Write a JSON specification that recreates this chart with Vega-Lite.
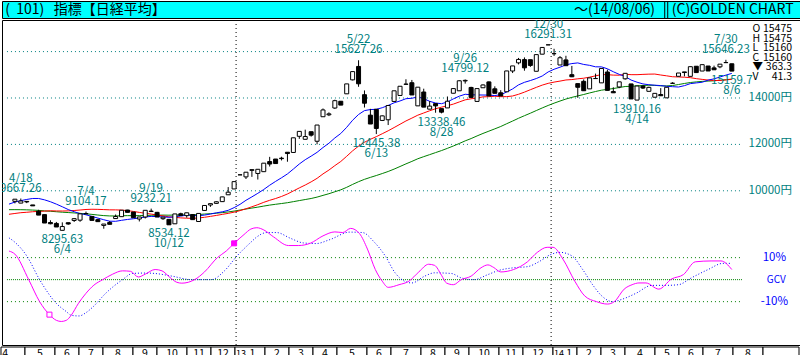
{
"$schema": "https://vega.github.io/schema/vega-lite/v6.json",
"padding": 0,
"background": "white",
"spacing": 0,
"config": {"view": {"stroke": null}, "concat": {"spacing": 0}, "font": "Noto Sans CJK JP"},
"datasets": {
"hdr": [{"w":0.2,"t":"(\u00a0\u00a0101)\u00a0\u00a0\u00a0指標【日経平均】","a":"l"},{"w":108.5,"t":"～(14/08/06)","a":"r"},{"w":131.6,"t":"(C)GOLDEN CHART","a":"r"}],
"hbar": [{"w":110.12},{"w":110.62}],
"grid": [{"p":10000,"lab":"10000円"},{"p":12000,"lab":"12000円"},{"p":14000,"lab":"14000円"},{"p":16000,"lab":""}],
"yr": [{"w":38.33},{"w":91.5}],
"og1": [{"v":10,"lab":"10%"},{"v":-10,"lab":"-10%"}],
"og0": [{"v":0,"lab":"GCV"}],
"k": [
{"w":1,"o":9546,"h":9638,"l":9458,"c":9638},
{"w":2,"o":9470,"h":9667,"l":9464,"c":9561},
{"w":3,"o":9542,"h":9561,"l":9468,"c":9521},
{"w":4,"o":9390,"h":9390,"l":9351,"c":9351},
{"w":5,"o":9119,"h":9181,"l":8953,"c":8953},
{"w":6,"o":8973,"h":8973,"l":8611,"c":8611},
{"w":7,"o":8633,"h":8729,"l":8556,"c":8580},
{"w":8,"o":8593,"h":8657,"l":8440,"c":8440},
{"w":9,"o":8296,"h":8639,"l":8296,"c":8459},
{"w":10,"o":8624,"h":8624,"l":8536,"c":8569},
{"w":11,"o":8721,"h":8824,"l":8655,"c":8798},
{"w":12,"o":8734,"h":9007,"l":8663,"c":9007},
{"w":13,"o":9003,"h":9104,"l":9003,"c":9021},
{"w":14,"o":8896,"h":8896,"l":8720,"c":8724},
{"w":15,"o":8755,"h":8795,"l":8670,"c":8670},
{"w":16,"o":8508,"h":8566,"l":8365,"c":8566},
{"w":17,"o":8636,"h":8695,"l":8555,"c":8555},
{"w":18,"o":8803,"h":8978,"l":8803,"c":8891},
{"w":19,"o":8885,"h":9162,"l":8885,"c":9162},
{"w":20,"o":9171,"h":9178,"l":9071,"c":9071},
{"w":21,"o":9085,"h":9085,"l":8840,"c":8840},
{"w":22,"o":8783,"h":8872,"l":8679,"c":8872},
{"w":23,"o":8870,"h":9159,"l":8807,"c":9159},
{"w":24,"o":9123,"h":9232,"l":9086,"c":9110},
{"w":25,"o":9070,"h":9091,"l":8870,"c":8870},
{"w":26,"o":8797,"h":8863,"l":8746,"c":8863},
{"w":27,"o":8769,"h":8769,"l":8534,"c":8534},
{"w":28,"o":8577,"h":9003,"l":8577,"c":9003},
{"w":29,"o":9010,"h":9055,"l":8932,"c":8933},
{"w":30,"o":8929,"h":9051,"l":8841,"c":9051},
{"w":31,"o":8975,"h":8996,"l":8757,"c":8757},
{"w":32,"o":8676,"h":9024,"l":8661,"c":9024},
{"w":33,"o":9153,"h":9367,"l":9142,"c":9367},
{"w":34,"o":9388,"h":9446,"l":9308,"c":9446},
{"w":35,"o":9458,"h":9545,"l":9432,"c":9527},
{"w":36,"o":9533,"h":9742,"l":9525,"c":9737},
{"w":37,"o":9828,"h":10160,"l":9828,"c":9940},
{"w":38,"o":10080,"h":10395,"l":10080,"c":10395},
{"w":39,"o":10688,"h":10688,"l":10688,"c":10688},
{"w":40,"o":10599,"h":10801,"l":10508,"c":10801},
{"w":41,"o":10879,"h":10913,"l":10600,"c":10913},
{"w":42,"o":10747,"h":10927,"l":10486,"c":10927},
{"w":43,"o":10824,"h":11191,"l":10824,"c":11191},
{"w":44,"o":11260,"h":11463,"l":11046,"c":11153},
{"w":45,"o":11369,"h":11369,"l":11173,"c":11174},
{"w":46,"o":11407,"h":11468,"l":11309,"c":11386},
{"w":47,"o":11662,"h":11662,"l":11253,"c":11606},
{"w":48,"o":11652,"h":12284,"l":11652,"c":12284},
{"w":49,"o":12349,"h":12561,"l":12239,"c":12561},
{"w":50,"o":12220,"h":12635,"l":12220,"c":12339},
{"w":51,"o":12546,"h":12546,"l":12335,"c":12398},
{"w":52,"o":12135,"h":12834,"l":12003,"c":12834},
{"w":53,"o":13192,"h":13549,"l":13192,"c":13485},
{"w":54,"o":13275,"h":13382,"l":13220,"c":13316},
{"w":55,"o":13568,"h":13926,"l":13529,"c":13884},
{"w":56,"o":13860,"h":13860,"l":13694,"c":13694},
{"w":57,"o":14180,"h":14608,"l":14180,"c":14608},
{"w":58,"o":14782,"h":15138,"l":14758,"c":15138},
{"w":59,"o":15360,"h":15627,"l":14483,"c":14612},
{"w":60,"o":14142,"h":14326,"l":13589,"c":13775},
{"w":61,"o":13261,"h":13533,"l":12878,"c":12878},
{"w":62,"o":13514,"h":13514,"l":12445,"c":12687},
{"w":63,"o":13033,"h":13245,"l":13007,"c":13230},
{"w":64,"o":13062,"h":13677,"l":12834,"c":13677},
{"w":65,"o":13852,"h":14310,"l":13852,"c":14310},
{"w":66,"o":14109,"h":14506,"l":14109,"c":14506},
{"w":67,"o":14599,"h":14808,"l":14589,"c":14590},
{"w":68,"o":14658,"h":14778,"l":14130,"c":14130},
{"w":69,"o":13661,"h":14466,"l":13661,"c":14466},
{"w":70,"o":14258,"h":14401,"l":13606,"c":13606},
{"w":71,"o":13519,"h":13867,"l":13519,"c":13650},
{"w":72,"o":13758,"h":13758,"l":13365,"c":13661},
{"w":73,"o":13542,"h":13542,"l":13338,"c":13389},
{"w":74,"o":13572,"h":14065,"l":13572,"c":13861},
{"w":75,"o":14205,"h":14425,"l":14205,"c":14405},
{"w":76,"o":14311,"h":14766,"l":14311,"c":14742},
{"w":77,"o":14734,"h":14799,"l":14620,"c":14760},
{"w":78,"o":14455,"h":14484,"l":14024,"c":14024},
{"w":79,"o":13853,"h":14405,"l":13853,"c":14405},
{"w":80,"o":14441,"h":14586,"l":14441,"c":14562},
{"w":81,"o":14693,"h":14713,"l":14088,"c":14088},
{"w":82,"o":14396,"h":14502,"l":14202,"c":14202},
{"w":83,"o":14225,"h":14337,"l":14087,"c":14087},
{"w":84,"o":14269,"h":15166,"l":14269,"c":15166},
{"w":85,"o":15164,"h":15382,"l":15076,"c":15382},
{"w":86,"o":15515,"h":15727,"l":15449,"c":15662},
{"w":87,"o":15655,"h":15749,"l":15177,"c":15300},
{"w":88,"o":15650,"h":15650,"l":15341,"c":15403},
{"w":89,"o":15152,"h":15870,"l":15152,"c":15870},
{"w":90,"o":15889,"h":16179,"l":15889,"c":16179},
{"w":91,"o":16291,"h":16291,"l":16291,"c":16291},
{"w":92,"o":15908,"h":16121,"l":15814,"c":15912},
{"w":93,"o":15422,"h":15808,"l":15422,"c":15734},
{"w":94,"o":15641,"h":15820,"l":15392,"c":15392},
{"w":95,"o":15005,"h":15383,"l":14900,"c":14915},
{"w":96,"o":14619,"h":14619,"l":14008,"c":14462},
{"w":97,"o":14718,"h":14800,"l":14313,"c":14313},
{"w":98,"o":14393,"h":14866,"l":14393,"c":14866},
{"w":99,"o":14837,"h":15051,"l":14837,"c":14841},
{"w":100,"o":14652,"h":15274,"l":14652,"c":15274},
{"w":101,"o":15120,"h":15224,"l":14328,"c":14328},
{"w":102,"o":14277,"h":14462,"l":14224,"c":14224},
{"w":103,"o":14475,"h":14696,"l":14423,"c":14696},
{"w":104,"o":14827,"h":15071,"l":14791,"c":15064},
{"w":105,"o":14606,"h":14606,"l":13960,"c":13960},
{"w":106,"o":13910,"h":14516,"l":13910,"c":14516},
{"w":107,"o":14512,"h":14546,"l":14388,"c":14429},
{"w":108,"o":14288,"h":14485,"l":14288,"c":14458},
{"w":109,"o":14033,"h":14200,"l":14033,"c":14200},
{"w":110,"o":14149,"h":14425,"l":14097,"c":14097},
{"w":111,"o":14006,"h":14462,"l":14006,"c":14462},
{"w":112,"o":14636,"h":14681,"l":14603,"c":14632},
{"w":113,"o":14935,"h":15077,"l":14935,"c":15077},
{"w":114,"o":15124,"h":15124,"l":14933,"c":15098},
{"w":115,"o":14933,"h":15361,"l":14933,"c":15349},
{"w":116,"o":15369,"h":15376,"l":15095,"c":15095},
{"w":117,"o":15162,"h":15437,"l":15162,"c":15437},
{"w":118,"o":15379,"h":15379,"l":15164,"c":15164},
{"w":119,"o":15297,"h":15395,"l":15216,"c":15216},
{"w":120,"o":15343,"h":15458,"l":15284,"c":15458},
{"w":121,"o":15529,"h":15646,"l":15523,"c":15523},
{"w":122,"o":15475,"h":15475,"l":15160,"c":15160}
],
"m": [
{"w":0,"a":9426,"b":8988,"g":9186},{"w":1,"a":9514,"b":9022,"g":9187},{"w":2,"a":9575,"b":9056,"g":9185},{"w":3,"a":9627,"b":9074,"g":9179},{"w":4,"a":9669,"b":9097,"g":9169},{"w":5,"a":9669,"b":9113,"g":9155},{"w":6,"a":9610,"b":9123,"g":9135},{"w":7,"a":9528,"b":9139,"g":9117},{"w":8,"a":9425,"b":9131,"g":9097},{"w":9,"a":9312,"b":9128,"g":9077},
{"w":10,"a":9192,"b":9135,"g":9062},{"w":11,"a":9098,"b":9150,"g":9045},{"w":12,"a":9016,"b":9171,"g":9028},{"w":13,"a":8965,"b":9195,"g":9007},{"w":14,"a":8894,"b":9204,"g":8983},{"w":15,"a":8825,"b":9200,"g":8955},{"w":16,"a":8752,"b":9190,"g":8931},{"w":17,"a":8689,"b":9179,"g":8916},{"w":18,"a":8685,"b":9177,"g":8915},{"w":19,"a":8727,"b":9168,"g":8923},
{"w":20,"a":8765,"b":9146,"g":8929},{"w":21,"a":8795,"b":9110,"g":8927},{"w":22,"a":8827,"b":9069,"g":8929},{"w":23,"a":8872,"b":9032,"g":8935},{"w":24,"a":8896,"b":8997,"g":8945},{"w":25,"a":8885,"b":8951,"g":8949},{"w":26,"a":8873,"b":8919,"g":8953},{"w":27,"a":8858,"b":8876,"g":8949},{"w":28,"a":8884,"b":8855,"g":8955},{"w":29,"a":8912,"b":8832,"g":8953},
{"w":30,"a":8949,"b":8819,"g":8958},{"w":31,"a":8939,"b":8812,"g":8963},{"w":32,"a":8928,"b":8828,"g":8975},{"w":33,"a":8952,"b":8858,"g":8998},{"w":34,"a":8998,"b":8897,"g":9014},{"w":35,"a":9049,"b":8938,"g":9033},{"w":36,"a":9094,"b":8983,"g":9059},{"w":37,"a":9158,"b":9027,"g":9088},{"w":38,"a":9275,"b":9080,"g":9126},{"w":39,"a":9416,"b":9145,"g":9170},
{"w":40,"a":9591,"b":9225,"g":9214},{"w":41,"a":9738,"b":9311,"g":9255},{"w":42,"a":9892,"b":9402,"g":9296},{"w":43,"a":10056,"b":9503,"g":9341},{"w":44,"a":10240,"b":9590,"g":9383},{"w":45,"a":10405,"b":9667,"g":9418},{"w":46,"a":10561,"b":9756,"g":9451},{"w":47,"a":10727,"b":9863,"g":9486},{"w":48,"a":10938,"b":9994,"g":9532},{"w":49,"a":11155,"b":10125,"g":9578},
{"w":50,"a":11340,"b":10249,"g":9623},{"w":51,"a":11494,"b":10385,"g":9668},{"w":52,"a":11658,"b":10537,"g":9728},{"w":53,"a":11865,"b":10728,"g":9802},{"w":54,"a":12051,"b":10894,"g":9874},{"w":55,"a":12278,"b":11085,"g":9958},{"w":56,"a":12470,"b":11263,"g":10041},{"w":57,"a":12736,"b":11488,"g":10150},{"w":58,"a":13042,"b":11723,"g":10276},{"w":59,"a":13289,"b":11925,"g":10392},
{"w":60,"a":13456,"b":12092,"g":10494},{"w":61,"a":13502,"b":12220,"g":10579},{"w":62,"a":13512,"b":12334,"g":10658},{"w":63,"a":13581,"b":12460,"g":10744},{"w":64,"a":13679,"b":12587,"g":10833},{"w":65,"a":13793,"b":12726,"g":10935},{"w":66,"a":13872,"b":12868,"g":11047},{"w":67,"a":13969,"b":13010,"g":11160},{"w":68,"a":13988,"b":13133,"g":11267},{"w":69,"a":14048,"b":13259,"g":11381},
{"w":70,"a":13972,"b":13354,"g":11472},{"w":71,"a":13857,"b":13449,"g":11558},{"w":72,"a":13784,"b":13537,"g":11646},{"w":73,"a":13754,"b":13605,"g":11734},{"w":74,"a":13829,"b":13666,"g":11830},{"w":75,"a":13962,"b":13737,"g":11931},{"w":76,"a":14078,"b":13829,"g":12039},{"w":77,"a":14161,"b":13920,"g":12152},{"w":78,"a":14138,"b":13966,"g":12252},{"w":79,"a":14131,"b":14001,"g":12365},
{"w":80,"a":14128,"b":14049,"g":12472},{"w":81,"a":14125,"b":14057,"g":12571},{"w":82,"a":14105,"b":14077,"g":12670},{"w":83,"a":14142,"b":14057,"g":12772},{"w":84,"a":14258,"b":14058,"g":12891},{"w":85,"a":14391,"b":14087,"g":13006},{"w":86,"a":14565,"b":14160,"g":13126},{"w":87,"a":14676,"b":14253,"g":13237},{"w":88,"a":14752,"b":14357,"g":13345},{"w":89,"a":14839,"b":14458,"g":13459},
{"w":90,"a":14948,"b":14555,"g":13571},{"w":91,"a":15123,"b":14631,"g":13678},{"w":92,"a":15238,"b":14685,"g":13777},{"w":93,"a":15328,"b":14728,"g":13869},{"w":94,"a":15428,"b":14777,"g":13955},{"w":95,"a":15484,"b":14794,"g":14027},{"w":96,"a":15512,"b":14827,"g":14090},{"w":97,"a":15446,"b":14852,"g":14151},{"w":98,"a":15407,"b":14899,"g":14218},{"w":99,"a":15344,"b":14955,"g":14280},
{"w":100,"a":15342,"b":15009,"g":14337},{"w":101,"a":15259,"b":15006,"g":14371},{"w":102,"a":15132,"b":14986,"g":14408},{"w":103,"a":15018,"b":14983,"g":14452},{"w":104,"a":14924,"b":15023,"g":14495},{"w":105,"a":14774,"b":15006,"g":14504},{"w":106,"a":14681,"b":15005,"g":14527},{"w":107,"a":14607,"b":15018,"g":14537},{"w":108,"a":14572,"b":15028,"g":14552},{"w":109,"a":14552,"b":15032,"g":14544},
{"w":110,"a":14535,"b":14991,"g":14524},{"w":111,"a":14504,"b":14955,"g":14521},{"w":112,"a":14488,"b":14916,"g":14538},{"w":113,"a":14473,"b":14907,"g":14580},{"w":114,"a":14532,"b":14896,"g":14626},{"w":115,"a":14619,"b":14876,"g":14667},{"w":116,"a":14650,"b":14834,"g":14694},{"w":117,"a":14679,"b":14802,"g":14716},{"w":118,"a":14772,"b":14773,"g":14729},{"w":119,"a":14825,"b":14753,"g":14741},
{"w":120,"a":14905,"b":14756,"g":14766},{"w":121,"a":14986,"b":14779,"g":14787},{"w":122,"a":15060,"b":14806,"g":14816}
],
"os": [
{"w":0,"v":13},{"w":1,"v":11.6},{"w":3.33,"v":0},{"w":5.17,"v":-10},{"w":6.83,"v":-15.9},{"w":8,"v":-18.5},{"w":8.83,"v":-19},{"w":9.67,"v":-18.5},{"w":10.5,"v":-16.2},{"w":11.67,"v":-11},
{"w":13,"v":-6.2},{"w":14.33,"v":-2.5},{"w":15.83,"v":0},{"w":17.5,"v":2.5},{"w":19.17,"v":4},{"w":20.5,"v":3.8},{"w":21.83,"v":1.2},{"w":23,"v":2.5},{"w":24.67,"v":4.6},{"w":25.83,"v":4},
{"w":27.17,"v":1},{"w":28.33,"v":-1.2},{"w":29.17,"v":-1.6},{"w":31.33,"v":0},{"w":33,"v":3.5},{"w":35.17,"v":10},{"w":36.67,"v":13},{"w":38,"v":16.5},{"w":39.67,"v":20.5},{"w":40.83,"v":23},
{"w":41.83,"v":23.6},{"w":43,"v":22.6},{"w":44.67,"v":19.4},{"w":47.17,"v":15.5},{"w":48.83,"v":15.5},{"w":50.83,"v":16.5},{"w":53,"v":19.9},{"w":55,"v":21.7},{"w":56.33,"v":21.4},{"w":57.67,"v":23.3},
{"w":59.17,"v":20.9},{"w":60.5,"v":13.9},{"w":61.83,"v":4.6},{"w":63,"v":-0.7},{"w":64,"v":-3.5},{"w":65.83,"v":-2.3},{"w":67.5,"v":-0.7},{"w":69.17,"v":3.5},{"w":70.83,"v":7},{"w":71.83,"v":6.5},
{"w":73,"v":2},{"w":73.83,"v":-1.5},{"w":75,"v":-2.3},{"w":76.33,"v":0},{"w":78,"v":1.6},{"w":79.67,"v":5.4},{"w":80.83,"v":6.7},{"w":81.83,"v":5.5},{"w":83,"v":3.5},{"w":85.17,"v":4.6},
{"w":87.5,"v":8.1},{"w":89.17,"v":12.4},{"w":90.83,"v":14.7},{"w":91.83,"v":14.7},{"w":93.5,"v":9.3},{"w":95.5,"v":-0.7},{"w":97.17,"v":-7.4},{"w":99.17,"v":-10},{"w":101,"v":-11.1},{"w":102.17,"v":-10},
{"w":103.83,"v":-4.3},{"w":105.17,"v":-2.3},{"w":106.33,"v":-1.5},{"w":107.5,"v":-1.5},{"w":109.67,"v":-4.3},{"w":111.83,"v":0.3},{"w":113.83,"v":2.3},{"w":115.83,"v":8.1},{"w":118.5,"v":8.5},{"w":120.17,"v":8.5},
{"w":122,"v":4.6}
],
"sg": [
{"w":0,"v":19},{"w":1,"v":17},{"w":3,"v":10.8},{"w":5.17,"v":0},{"w":8,"v":-10.8},{"w":9.67,"v":-14.5},{"w":10.5,"v":-16.2},{"w":11.83,"v":-16.5},{"w":13,"v":-15},{"w":14.17,"v":-12.4},
{"w":16.33,"v":-6.2},{"w":17.67,"v":-3},{"w":19.17,"v":0},{"w":20.83,"v":2.8},{"w":23,"v":3},{"w":24.67,"v":2.8},{"w":27.5,"v":1.6},{"w":30.83,"v":0},{"w":34.17,"v":0},{"w":36.33,"v":3.9},
{"w":38.5,"v":10.8},{"w":40.83,"v":17},{"w":41.83,"v":19.4},{"w":43.5,"v":21.4},{"w":45.17,"v":21.4},{"w":47.5,"v":18.8},{"w":49.67,"v":16.7},{"w":51.83,"v":16.4},{"w":54.17,"v":18.2},{"w":57.5,"v":21.6},
{"w":59.67,"v":21.4},{"w":61.67,"v":17},{"w":63.5,"v":10.8},{"w":65.17,"v":3.1},{"w":66.83,"v":-0.8},{"w":68,"v":-1.5},{"w":70.17,"v":1.6},{"w":71.83,"v":3.1},{"w":74.67,"v":2.8},{"w":76.33,"v":0.8},
{"w":78.5,"v":0},{"w":80.83,"v":2.3},{"w":82.67,"v":4.2},{"w":85.17,"v":5.4},{"w":87.5,"v":5.9},{"w":89.67,"v":8.5},{"w":91.33,"v":11.3},{"w":93,"v":12.4},{"w":95,"v":10.8},{"w":96.83,"v":4.6},
{"w":98.5,"v":-2.3},{"w":100.17,"v":-7.7},{"w":101.83,"v":-10},{"w":103.5,"v":-8.9},{"w":105.83,"v":-6.2},{"w":108.5,"v":-2.6},{"w":110.83,"v":-2.6},{"w":113,"v":-2.3},{"w":115.17,"v":0.8},{"w":118,"v":4.6},
{"w":120.5,"v":7.4},{"w":121.83,"v":7.4}
],
"mk": [{"w":6.83,"v":-15.9,"f":0},{"w":38,"v":16.5,"f":1}],
"hi": [
{"w":2,"p":9667.26,"d":"4/18","t":"9667.26"},
{"w":13,"p":9104.17,"d":"7/4","t":"9104.17"},
{"w":24,"p":9232.21,"d":"9/19","t":"9232.21"},
{"w":59,"p":15627.26,"d":"5/22","t":"15627.26"},
{"w":77,"p":14799.12,"d":"9/26","t":"14799.12"},
{"w":91,"p":16291.31,"d":"12/30","t":"16291.31"},
{"w":121,"p":15646.23,"d":"7/30","t":"15646.23"}
],
"lo": [
{"w":9,"p":8295.63,"d":"6/4","t":"8295.63"},
{"w":27,"p":8534.12,"d":"10/12","t":"8534.12"},
{"w":62,"p":12445.38,"d":"6/13","t":"12445.38"},
{"w":73,"p":13338.46,"d":"8/28","t":"13338.46"},
{"w":106,"p":13910.16,"d":"4/14","t":"13910.16"},
{"w":122,"p":15159.79,"d":"8/6","t":"15159.7"}
],
"info": [
{"k":"O","v":"15475","p":16974},
{"k":"H","v":"15475","p":16556},
{"k":"L","v":"15160","p":16155},
{"k":"C","v":"15160","p":15724},
{"k":"▼","v":"363.3","p":15323},
{"k":"V","v":"41.3","p":14905}
],
"mon": [
{"m":"4","s":-0.5,"e":3.5,"c":0.2},
{"m":"5","s":3.5,"e":8.5,"c":6},
{"m":"6","s":8.5,"e":12.5,"c":10.5},
{"m":"7","s":12.5,"e":16.5,"c":14.5},
{"m":"8","s":16.5,"e":21.5,"c":19},
{"m":"9","s":21.5,"e":25.5,"c":23.5},
{"m":"10","s":25.5,"e":30.5,"c":28},
{"m":"11","s":30.5,"e":34.5,"c":32.5},
{"m":"12","s":34.5,"e":38.5,"c":36.5},
{"m":"1","s":38.5,"e":43.5,"c":41.4,"yr":"13"},
{"m":"2","s":43.5,"e":47.5,"c":45.5},
{"m":"3","s":47.5,"e":51.5,"c":49.5},
{"m":"4","s":51.5,"e":55.5,"c":53.5},
{"m":"5","s":55.5,"e":60.5,"c":58},
{"m":"6","s":60.5,"e":64.5,"c":62.5},
{"m":"7","s":64.5,"e":69.5,"c":67},
{"m":"8","s":69.5,"e":73.5,"c":71.5},
{"m":"9","s":73.5,"e":77.5,"c":75.5},
{"m":"10","s":77.5,"e":82.5,"c":80},
{"m":"11","s":82.5,"e":86.5,"c":84.5},
{"m":"12","s":86.5,"e":91.5,"c":89},
{"m":"1","s":91.5,"e":95.5,"c":94.2,"yr":"14"},
{"m":"2","s":95.5,"e":99.5,"c":97.5},
{"m":"3","s":99.5,"e":103.5,"c":101.5},
{"m":"4","s":103.5,"e":108.5,"c":106},
{"m":"5","s":108.5,"e":112.5,"c":110.5},
{"m":"6","s":112.5,"e":116.5,"c":114.5},
{"m":"7","s":116.5,"e":121.5,"c":119},
{"m":"8","s":121.5,"e":126.5,"c":124},
{"m":"","s":126.5,"e":132.5,"c":129.5}
]
},
"vconcat": [
{
"width": 800, "height": 17,
"view": {"fill": "#00ffff", "stroke": "#000000", "strokeWidth": 1},
"layer": [
{"data": {"name": "hdr"}, "transform": [{"filter": "datum.a == 'l'"}],
 "mark": {"type": "text", "align": "left", "fontSize": 14, "color": "#000000", "font": "Noto Sans CJK JP"},
 "encoding": {"x": {"field": "w", "type": "quantitative", "scale": {"domain": [-0.3333, 133], "nice": false, "zero": false}, "axis": null}, "text": {"field": "t"}}},
{"data": {"name": "hdr"}, "transform": [{"filter": "datum.a == 'r'"}],
 "mark": {"type": "text", "align": "right", "fontSize": 14, "color": "#000000", "font": "Noto Sans CJK JP"},
 "encoding": {"x": {"field": "w", "type": "quantitative", "scale": {"domain": [-0.3333, 133], "nice": false, "zero": false}, "axis": null}, "text": {"field": "t"}}},
{"data": {"name": "hbar"}, "mark": {"type": "rule", "color": "#000000", "strokeWidth": 1},
 "encoding": {"x": {"field": "w", "type": "quantitative", "scale": {"domain": [-0.3333, 133], "nice": false, "zero": false}, "axis": null}}}
]
},
{
"width": 800, "height": 325,
"view": {"stroke": "#000000", "strokeWidth": 1},
"resolve": {"scale": {"y": "independent"}},
"layer": [
{
"layer": [
{"data": {"name": "grid"}, "mark": {"type": "rule", "color": "#008080", "strokeDash": [1, 3]},
 "encoding": {
  "x": {"datum": -0.34, "type": "quantitative", "scale": {"domain": [-0.3333, 133], "nice": false, "zero": false}, "axis": null},
  "x2": {"datum": 123.8},
  "y": {"field": "p", "type": "quantitative", "scale": {"domain": [3353, 17362], "nice": false, "zero": false}, "axis": null}}},
{"data": {"name": "grid"}, "mark": {"type": "text", "color": "#008080", "fontSize": 11.5, "align": "left"},
 "encoding": {
  "x": {"datum": 124.83, "type": "quantitative", "scale": {"domain": [-0.3333, 133], "nice": false, "zero": false}, "axis": null},
  "y": {"field": "p", "type": "quantitative", "scale": {"domain": [3353, 17362], "nice": false, "zero": false}, "axis": null},
  "text": {"field": "lab"}}},
{"data": {"name": "yr"}, "mark": {"type": "rule", "color": "#000000", "strokeDash": [1, 3]},
 "encoding": {"x": {"field": "w", "type": "quantitative", "scale": {"domain": [-0.3333, 133], "nice": false, "zero": false}, "axis": null}}},
{"data": {"name": "m"}, "mark": {"type": "line", "color": "#008000", "strokeWidth": 1},
 "encoding": {"x": {"field": "w", "type": "quantitative", "scale": {"domain": [-0.3333, 133], "nice": false, "zero": false}, "axis": null},
  "y": {"field": "g", "type": "quantitative", "scale": {"domain": [3353, 17362], "nice": false, "zero": false}, "axis": null}}},
{"data": {"name": "m"}, "mark": {"type": "line", "color": "#ff0000", "strokeWidth": 1},
 "encoding": {"x": {"field": "w", "type": "quantitative", "scale": {"domain": [-0.3333, 133], "nice": false, "zero": false}, "axis": null},
  "y": {"field": "b", "type": "quantitative", "scale": {"domain": [3353, 17362], "nice": false, "zero": false}, "axis": null}}},
{"data": {"name": "m"}, "mark": {"type": "line", "color": "#0000ff", "strokeWidth": 1},
 "encoding": {"x": {"field": "w", "type": "quantitative", "scale": {"domain": [-0.3333, 133], "nice": false, "zero": false}, "axis": null},
  "y": {"field": "a", "type": "quantitative", "scale": {"domain": [3353, 17362], "nice": false, "zero": false}, "axis": null}}},
{"data": {"name": "k"}, "mark": {"type": "rule", "color": "#000000", "strokeWidth": 1},
 "encoding": {"x": {"field": "w", "type": "quantitative", "scale": {"domain": [-0.3333, 133], "nice": false, "zero": false}, "axis": null},
  "y": {"field": "l", "type": "quantitative", "scale": {"domain": [3353, 17362], "nice": false, "zero": false}, "axis": null},
  "y2": {"field": "h"}}},
{"data": {"name": "k"}, "mark": {"type": "bar", "size": 4, "stroke": "#000000", "strokeWidth": 1},
 "encoding": {"x": {"field": "w", "type": "quantitative", "scale": {"domain": [-0.3333, 133], "nice": false, "zero": false}, "axis": null},
  "y": {"field": "o", "type": "quantitative", "scale": {"domain": [3353, 17362], "nice": false, "zero": false}, "axis": null},
  "y2": {"field": "c"},
  "fill": {"condition": {"test": "datum.c < datum.o", "value": "#000000"}, "value": "#ffffff"}}},
{"data": {"name": "hi"}, "mark": {"type": "text", "color": "#008080", "fontSize": 11.5, "dy": -20, "clip": true},
 "encoding": {"x": {"field": "w", "type": "quantitative", "scale": {"domain": [-0.3333, 133], "nice": false, "zero": false}, "axis": null},
  "y": {"field": "p", "type": "quantitative", "scale": {"domain": [3353, 17362], "nice": false, "zero": false}, "axis": null},
  "text": {"field": "d"}}},
{"data": {"name": "hi"}, "mark": {"type": "text", "color": "#008080", "fontSize": 11.5, "dy": -10, "clip": true},
 "encoding": {"x": {"field": "w", "type": "quantitative", "scale": {"domain": [-0.3333, 133], "nice": false, "zero": false}, "axis": null},
  "y": {"field": "p", "type": "quantitative", "scale": {"domain": [3353, 17362], "nice": false, "zero": false}, "axis": null},
  "text": {"field": "t"}}},
{"data": {"name": "lo"}, "mark": {"type": "text", "color": "#008080", "fontSize": 11.5, "dy": 9.5, "clip": true},
 "encoding": {"x": {"field": "w", "type": "quantitative", "scale": {"domain": [-0.3333, 133], "nice": false, "zero": false}, "axis": null},
  "y": {"field": "p", "type": "quantitative", "scale": {"domain": [3353, 17362], "nice": false, "zero": false}, "axis": null},
  "text": {"field": "t"}}},
{"data": {"name": "lo"}, "mark": {"type": "text", "color": "#008080", "fontSize": 11.5, "dy": 19.5, "clip": true},
 "encoding": {"x": {"field": "w", "type": "quantitative", "scale": {"domain": [-0.3333, 133], "nice": false, "zero": false}, "axis": null},
  "y": {"field": "p", "type": "quantitative", "scale": {"domain": [3353, 17362], "nice": false, "zero": false}, "axis": null},
  "text": {"field": "d"}}},
{"data": {"name": "info"}, "mark": {"type": "text", "color": "#000000", "fontSize": 10.5, "align": "left"},
 "encoding": {"x": {"datum": 125.5, "type": "quantitative", "scale": {"domain": [-0.3333, 133], "nice": false, "zero": false}, "axis": null},
  "y": {"field": "p", "type": "quantitative", "scale": {"domain": [3353, 17362], "nice": false, "zero": false}, "axis": null},
  "text": {"field": "k"}}},
{"data": {"name": "info"}, "mark": {"type": "text", "color": "#000000", "fontSize": 10.5, "align": "right"},
 "encoding": {"x": {"datum": 132.17, "type": "quantitative", "scale": {"domain": [-0.3333, 133], "nice": false, "zero": false}, "axis": null},
  "y": {"field": "p", "type": "quantitative", "scale": {"domain": [3353, 17362], "nice": false, "zero": false}, "axis": null},
  "text": {"field": "v"}}}
]
},
{
"layer": [
{"data": {"name": "og1"}, "mark": {"type": "rule", "color": "#008000", "strokeDash": [1, 3]},
 "encoding": {
  "x": {"datum": -0.34, "type": "quantitative", "scale": {"domain": [-0.3333, 133], "nice": false, "zero": false}, "axis": null},
  "x2": {"datum": 123.8},
  "y": {"field": "v", "type": "quantitative", "scale": {"domain": [-29.7, 118], "nice": false, "zero": false}, "axis": null}}},
{"data": {"name": "og0"}, "mark": {"type": "rule", "color": "#008000", "strokeDash": [1, 1]},
 "encoding": {
  "x": {"datum": -0.34, "type": "quantitative", "scale": {"domain": [-0.3333, 133], "nice": false, "zero": false}, "axis": null},
  "x2": {"datum": 123.8},
  "y": {"field": "v", "type": "quantitative", "scale": {"domain": [-29.7, 118], "nice": false, "zero": false}, "axis": null}}},
{"data": {"name": "og1"}, "mark": {"type": "text", "color": "#0000ff", "fontSize": 11.5, "align": "center"},
 "encoding": {
  "x": {"datum": 129.17, "type": "quantitative", "scale": {"domain": [-0.3333, 133], "nice": false, "zero": false}, "axis": null},
  "y": {"field": "v", "type": "quantitative", "scale": {"domain": [-29.7, 118], "nice": false, "zero": false}, "axis": null},
  "text": {"field": "lab"}}},
{"data": {"name": "og0"}, "mark": {"type": "text", "color": "#0000ff", "fontSize": 10, "align": "center"},
 "encoding": {
  "x": {"datum": 129.5, "type": "quantitative", "scale": {"domain": [-0.3333, 133], "nice": false, "zero": false}, "axis": null},
  "y": {"field": "v", "type": "quantitative", "scale": {"domain": [-29.7, 118], "nice": false, "zero": false}, "axis": null},
  "text": {"field": "lab"}}},
{"data": {"name": "sg"}, "mark": {"type": "line", "color": "#0000ff", "strokeWidth": 1, "strokeDash": [1, 2], "interpolate": "monotone"},
 "encoding": {"x": {"field": "w", "type": "quantitative", "scale": {"domain": [-0.3333, 133], "nice": false, "zero": false}, "axis": null},
  "y": {"field": "v", "type": "quantitative", "scale": {"domain": [-29.7, 118], "nice": false, "zero": false}, "axis": null}}},
{"data": {"name": "os"}, "mark": {"type": "line", "color": "#ff00ff", "strokeWidth": 1, "interpolate": "monotone"},
 "encoding": {"x": {"field": "w", "type": "quantitative", "scale": {"domain": [-0.3333, 133], "nice": false, "zero": false}, "axis": null},
  "y": {"field": "v", "type": "quantitative", "scale": {"domain": [-29.7, 118], "nice": false, "zero": false}, "axis": null}}},
{"data": {"name": "mk"}, "mark": {"type": "point", "shape": "square", "size": 25, "filled": true, "stroke": "#ff00ff", "strokeWidth": 1, "opacity": 1},
 "encoding": {"x": {"field": "w", "type": "quantitative", "scale": {"domain": [-0.3333, 133], "nice": false, "zero": false}, "axis": null},
  "y": {"field": "v", "type": "quantitative", "scale": {"domain": [-29.7, 118], "nice": false, "zero": false}, "axis": null},
  "fill": {"condition": {"test": "datum.f == 1", "value": "#ff00ff"}, "value": "#ffffff"}}}
]
}
]
},
{
"width": 800, "height": 13,
"data": {"name": "mon"},
"layer": [
{"mark": {"type": "rect", "fill": "#ffffff", "stroke": "#000000", "strokeWidth": 1},
 "encoding": {"x": {"field": "s", "type": "quantitative", "scale": {"domain": [-0.3333, 133], "nice": false, "zero": false}, "axis": null}, "x2": {"field": "e"}}},
{"mark": {"type": "text", "fontSize": 10.5, "color": "#000000"},
 "encoding": {"x": {"field": "c", "type": "quantitative", "scale": {"domain": [-0.3333, 133], "nice": false, "zero": false}, "axis": null}, "text": {"field": "m"}}},
{"transform": [{"filter": "datum.yr != null"}], "mark": {"type": "text", "fontSize": 9, "color": "#000000", "align": "left", "dx": 1},
 "encoding": {"x": {"field": "s", "type": "quantitative", "scale": {"domain": [-0.3333, 133], "nice": false, "zero": false}, "axis": null}, "text": {"field": "yr"}}}
]
}
]
}
